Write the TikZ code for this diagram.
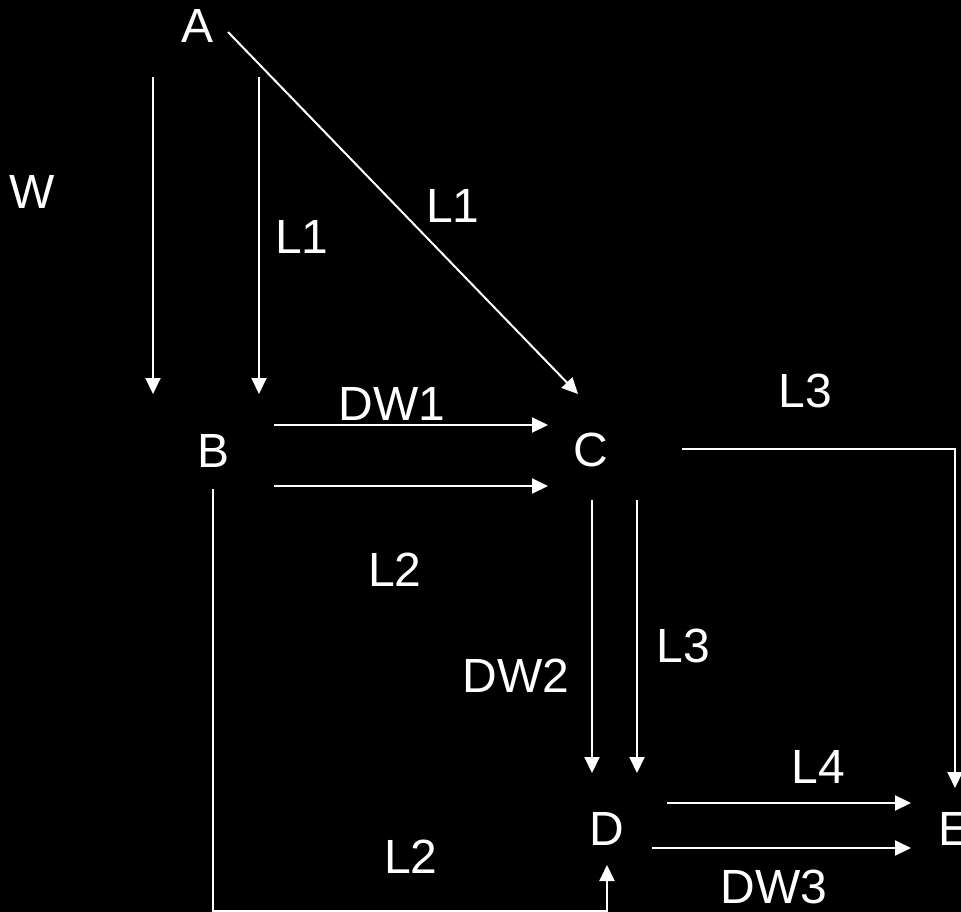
\documentclass[tikz,border=0pt]{standalone}
\usepackage{fontspec}
\setmainfont{Liberation Sans}
\usetikzlibrary{arrows.meta}
\begin{document}
\begin{tikzpicture}[x=1pt,y=-1pt,
  lbl/.style={text=white,inner sep=0pt,font=\fontsize{48}{58}\selectfont},
  conn/.style={draw=white,line width=2pt},
  arr/.style={conn,-{Triangle[length=16pt,width=15pt]}}]
\fill[black] (0,0) rectangle (961,912);
\clip (0,0) rectangle (961,912);
\useasboundingbox (0,0) rectangle (961,912);
% main nodes
\node[lbl] (A) at (198,26) {A};
\node[lbl] (B) at (214,451) {B};
\node[lbl] (C) at (591,450) {C};
\node[lbl] (D) at (607,829) {D};
\node[lbl,anchor=west] (E) at (938,829) {E};
% labels
\node[lbl] (w) at (32,192) {W};
\node[lbl] (l1a) at (302,237) {L1};
\node[lbl] (l1b) at (453,206) {L1};
\node[lbl] (dw1) at (392,404) {DW1};
\node[lbl] (l3a) at (805,391) {L3};
\node[lbl] (l2a) at (395,570) {L2};
\node[lbl] (dw2) at (516,676) {DW2};
\node[lbl] (l3b) at (683,646) {L3};
\node[lbl] (l4) at (818,767) {L4};
\node[lbl] (dw3) at (774,887) {DW3};
\node[lbl] (l2b) at (411,857) {L2};
% connector coordinates
\coordinate (w1) at (153,77);  \coordinate (w2) at (153,394);
\coordinate (a1) at (259,77);  \coordinate (a2) at (259,394);
\coordinate (d1) at (228,32);  \coordinate (d2) at (578,394);
\coordinate (b1) at (274,425); \coordinate (c1) at (548,425);
\coordinate (b2) at (274,486); \coordinate (c2) at (548,486);
\coordinate (c3) at (682,449); \coordinate (k1) at (955,449); \coordinate (e1) at (955,788);
\coordinate (c4) at (592,500); \coordinate (d4) at (592,773);
\coordinate (c5) at (637,500); \coordinate (d5) at (637,773);
\coordinate (d6) at (667,803); \coordinate (e6) at (911,803);
\coordinate (d7) at (652,848); \coordinate (e7) at (911,848);
\coordinate (b8) at (213,489); \coordinate (k2) at (213,911); \coordinate (k3) at (607,911); \coordinate (d8) at (607,865);
% connectors
\draw[arr] (w1) -- (w2);
\draw[arr] (a1) -- (a2);
\draw[arr] (d1) -- (d2);
\draw[arr] (b1) -- (c1);
\draw[arr] (b2) -- (c2);
\draw[arr] (c3) -- (k1) -- (e1);
\draw[arr] (c4) -- (d4);
\draw[arr] (c5) -- (d5);
\draw[arr] (d6) -- (e6);
\draw[arr] (d7) -- (e7);
\draw[arr] (b8) -- (k2) -- (k3) -- (d8);
\end{tikzpicture}
\end{document}
